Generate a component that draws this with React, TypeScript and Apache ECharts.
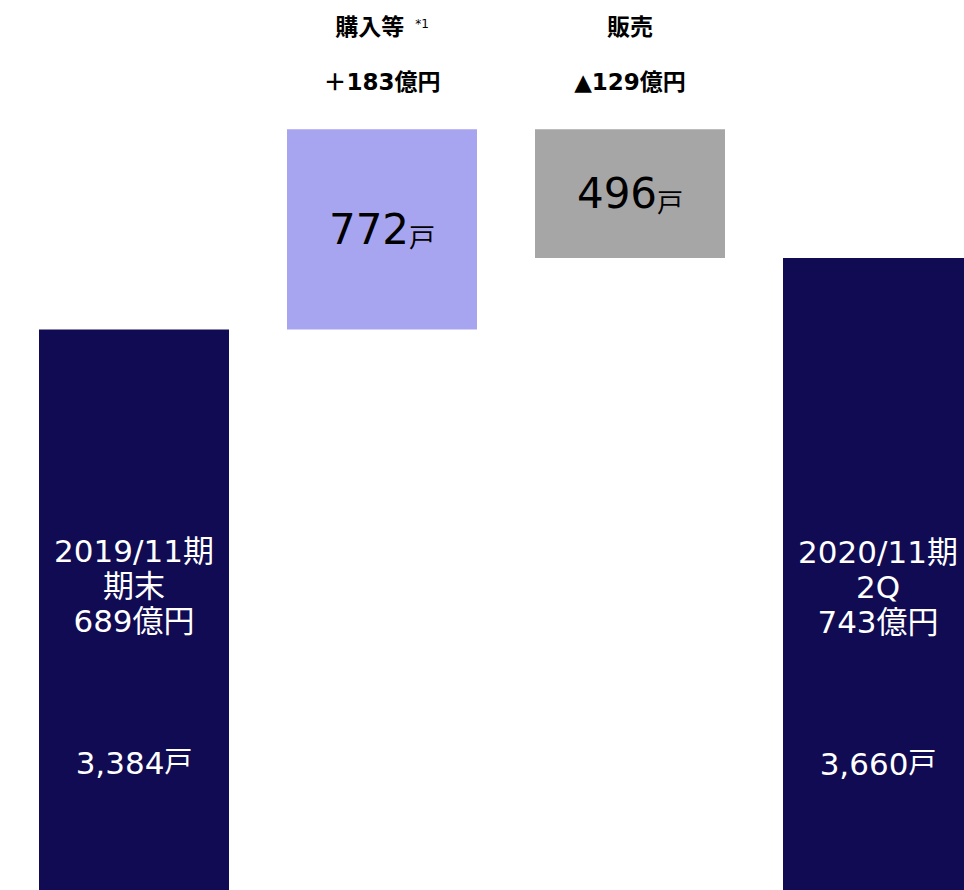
import React, { useEffect, useRef } from "react";
import * as echarts from "echarts";

// ---- data ----
const categories = ["2019/11期 期末", "購入等", "販売", "2020/11期 2Q"];
const startUnits = 3384;
const purchasedUnits = 772;
const soldUnits = 496;
const endUnits = 3660;
const periodLines = [["2019/11期", "期末"], [], [], ["2020/11期", "2Q"]];
const amountLabels = ["689億円", "＋183億円", "▲129億円", "743億円"];
const captionLabels = ["", "購入等", "販売", ""];
const captionNotes = ["", "*1", "", ""];

const F = "'DejaVu Sans', 'Noto Sans CJK JP', sans-serif";
const NAVY = "#100B52";
const LAVENDER = "#A8A5F0";
const GRAY = "#A6A6A6";

const fmt = (v: number) => v.toLocaleString("en-US");

export default function App() {
  const ref = useRef<HTMLDivElement>(null);
  useEffect(() => {
    if (!ref.current) return;
    const chart = echarts.init(ref.current, undefined, { renderer: "svg" });

    const visible = [startUnits, purchasedUnits, soldUnits, endUnits];
    const base = [0, startUnits, startUnits + purchasedUnits - soldUnits, 0];
    const colors = [NAVY, LAVENDER, GRAY, NAVY];

    const endLabel = (i: number, distance: number) => ({
      show: true,
      position: "insideTop",
      distance,
      formatter:
        periodLines[i].map((l) => `{p|${l}}`).join("\n") +
        `\n{p|${amountLabels[i]}}\n{sp| }\n{n|${fmt(visible[i])}}{u|戸}`,
    });
    const midLabel = (i: number) => ({
      show: true,
      position: "inside",
      formatter: `{bn|${fmt(visible[i])}}{bu|戸}`,
    });

    const mainData = visible.map((v, i) => ({
      value: v,
      itemStyle: { color: colors[i] },
      label:
        i === 0 ? endLabel(0, 204) : i === 3 ? endLabel(3, 277) : midLabel(i),
    }));

    const captionData = visible.map((_, i) =>
      captionLabels[i]
        ? {
            value: 0,
            label: {
              show: true,
              position: "top",
              distance: 7,
              formatter:
                `{h|${captionLabels[i]}}` +
                (captionNotes[i] ? `{s|${captionNotes[i]}}` : "") +
                `\n{v|${amountLabels[i]}}`,
            },
          }
        : { value: 0, label: { show: false } }
    );

    chart.setOption({
      animation: false,
      grid: { left: 10, right: 0, top: 0, bottom: 0, containLabel: false },
      xAxis: {
        type: "category",
        data: categories,
        show: false,
      },
      yAxis: { type: "value", min: 1224, max: 4654, show: false },
      series: [
        {
          type: "bar",
          stack: "w",
          barWidth: 190,
          silent: true,
          itemStyle: { color: "transparent" },
          data: base,
        },
        {
          type: "bar",
          stack: "w",
          barWidth: 190,
          data: mainData,
          label: {
            show: true,
            rich: {
              p: { fontFamily: F, fontSize: 31, lineHeight: 35, color: "#fff" },
              sp: { fontFamily: F, fontSize: 10, lineHeight: 106, color: "#fff" },
              n: { fontFamily: F, fontSize: 31, lineHeight: 36, color: "#fff" },
              u: { fontFamily: F, fontSize: 28, lineHeight: 36, color: "#fff" },
              bn: { fontFamily: F, fontSize: 42, lineHeight: 44, color: "#000" },
              bu: {
                fontFamily: F,
                fontSize: 26,
                lineHeight: 32,
                verticalAlign: "bottom",
                color: "#000",
              },
            },
          },
        },
        {
          type: "bar",
          stack: "w",
          barWidth: 190,
          silent: true,
          itemStyle: { color: "transparent" },
          data: captionData,
          label: {
            show: false,
            rich: {
              h: {
                fontFamily: F,
                fontSize: 23,
                fontWeight: "bold",
                lineHeight: 30,
                color: "#000",
              },
              s: {
                fontFamily: F,
                fontSize: 12,
                lineHeight: 14,
                verticalAlign: "middle",
                padding: [0, 0, 7, 11],
                color: "#000",
              },
              v: {
                fontFamily: F,
                fontSize: 23,
                fontWeight: "bold",
                lineHeight: 80,
                color: "#000",
              },
            },
          },
        },
      ],
    });
    return () => chart.dispose();
  }, []);

  return (
    <div
      style={{
        position: "absolute",
        left: 0,
        top: 0,
        width: 964,
        height: 890,
        overflow: "hidden",
      }}
    >
      <div ref={ref} style={{ width: 1002, height: 890 }} />
    </div>
  );
}
